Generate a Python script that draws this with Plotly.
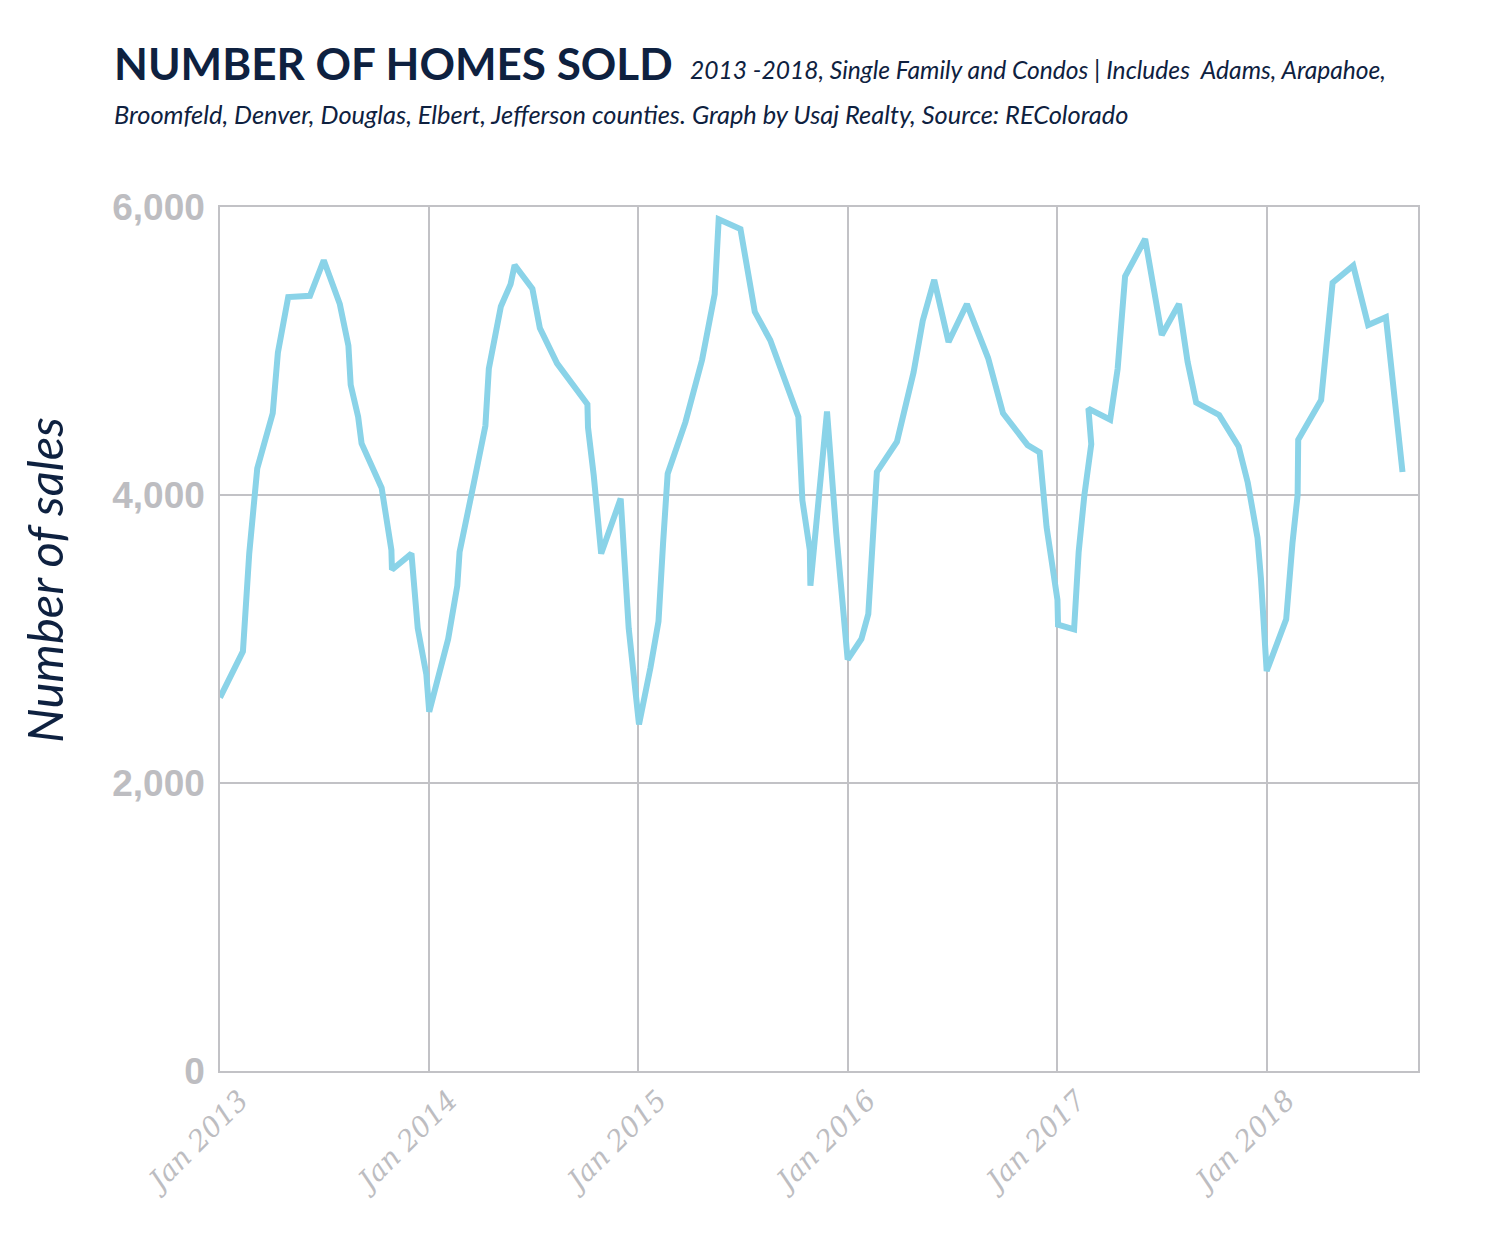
import plotly.graph_objects as go

# ---- data ----
dates = [
    "2013-01-01", "2013-02-10", "2013-02-21", "2013-03-07", "2013-04-03", "2013-04-12",
    "2013-04-30", "2013-06-07", "2013-07-01", "2013-07-29", "2013-08-13", "2013-08-17",
    "2013-08-30", "2013-09-05", "2013-10-10", "2013-10-19", "2013-10-27", "2013-10-28",
    "2013-12-01", "2013-12-12", "2013-12-27",
    "2014-01-01", "2014-01-21", "2014-02-03", "2014-02-19", "2014-02-23", "2014-03-20",
    "2014-04-09", "2014-04-15", "2014-05-06", "2014-05-23", "2014-05-30", "2014-06-30",
    "2014-07-13", "2014-08-12", "2014-09-16", "2014-10-04", "2014-10-05", "2014-10-15",
    "2014-10-28", "2014-12-01", "2014-12-15",
    "2015-01-02", "2015-01-22", "2015-02-05", "2015-02-13", "2015-02-21", "2015-03-24",
    "2015-04-22", "2015-05-14", "2015-05-20", "2015-05-21", "2015-06-28", "2015-07-23",
    "2015-08-19", "2015-09-12", "2015-10-07", "2015-10-14", "2015-10-27", "2015-10-28",
    "2015-11-26", "2015-12-12",
    "2016-01-01", "2016-01-25", "2016-02-06", "2016-02-21", "2016-03-27", "2016-04-25",
    "2016-05-11", "2016-05-31", "2016-06-25", "2016-07-27", "2016-09-02", "2016-09-28",
    "2016-11-10", "2016-12-01", "2016-12-13",
    "2017-01-01", "2017-01-02", "2017-01-30", "2017-02-07", "2017-02-17", "2017-03-01",
    "2017-02-24", "2017-04-03", "2017-04-16", "2017-04-23", "2017-04-29", "2017-06-03",
    "2017-06-17", "2017-07-02", "2017-08-01", "2017-08-16", "2017-08-31", "2017-10-10",
    "2017-11-13", "2017-11-29", "2017-12-16", "2017-12-22",
    "2018-01-01", "2018-02-04", "2018-02-15", "2018-02-24", "2018-02-25", "2018-04-06",
    "2018-04-26", "2018-06-01", "2018-06-27", "2018-07-28", "2018-08-26",
]
sales = [
    2593, 2914, 3593, 4185, 4568, 4988,
    5375, 5383, 5630, 5326, 5037, 4765,
    4543, 4358, 4049, 3840, 3617, 3481,
    3593, 3074, 2753,
    2494, 2790, 3000, 3370, 3605, 4086,
    4481, 4877, 5309, 5464, 5597, 5432,
    5160, 4914, 4716, 4630, 4469, 4136,
    3593, 3975, 3074,
    2407, 2802, 3123, 3667, 4148, 4506,
    4938, 5395, 5741, 5914, 5847, 5272,
    5074, 4827, 4543, 3963, 3617, 3370,
    4580, 3741,
    2857, 3000, 3173, 4160, 4370, 4852,
    5210, 5494, 5062, 5326, 4951, 4568,
    4346, 4296, 3778,
    3272, 3099, 3067, 3605, 4000, 4353,
    4600, 4523, 4876, 5259, 5518, 5778,
    5469, 5111, 5326, 4926, 4642, 4556,
    4338, 4086, 3704, 3420,
    2778, 3136, 3667, 4000, 4383, 4659,
    5474, 5593, 5180, 5235, 4160,
]
x_tick_vals = ["2013-01-01", "2014-01-01", "2015-01-01", "2016-01-01", "2017-01-01", "2018-01-01"]
x_tick_text = ["Jan 2013", "Jan 2014", "Jan 2015", "Jan 2016", "Jan 2017", "Jan 2018"]
y_tick_vals = [0, 2000, 4000, 6000]
y_tick_text = ["0", "2,000", "4,000", "6,000"]

title_text = "NUMBER OF HOMES SOLD"
subtitle_1 = "2013 -2018, Single Family and Condos | Includes  Adams, Arapahoe,"
subtitle_2 = "Broomfeld, Denver, Douglas, Elbert, Jefferson counties. Graph by Usaj Realty, Source: REColorado"
y_title = "Number of sales"

NAVY = "#0e2140"
GRID = "#c2c2c6"
TICK = "#bdbdc1"
LINE = "#8ad3e8"

fig = go.Figure()
fig.add_trace(go.Scatter(
    x=dates, y=sales, mode="lines",
    line=dict(color=LINE, width=6, shape="linear"),
    hoverinfo="x+y", showlegend=False,
))

W, H = 1486, 1236
OFF = 8  # page body margin
# target screen positions of plot area
SL, SR, ST, SB = 220, 1418, 207, 1071
L, T = SL - OFF, ST - OFF
R = W - (SR - OFF)
B = H - (SB - OFF)
pw, ph = SR - SL, SB - ST

def px(xp):
    return (xp - SL) / pw

def py(yp):
    return (SB - yp) / ph

fig.update_layout(
    width=W, height=H,
    margin=dict(l=L, r=R, t=T, b=B, pad=0),
    paper_bgcolor="white", plot_bgcolor="white",
    xaxis=dict(
        type="date", range=["2013-01-01", "2018-09-22"],
        tickmode="array", tickvals=x_tick_vals, ticktext=x_tick_text,
        tickangle=-45, ticklabelshift=20,
        tickfont=dict(family="DejaVu Serif", size=28, color=TICK, style="italic"),
        showgrid=True, gridcolor=GRID, gridwidth=1.5,
        showline=True, linecolor=GRID, linewidth=1.5, mirror=True,
        ticks="", zeroline=False,
    ),
    yaxis=dict(
        range=[0, 6000],
        tickmode="array", tickvals=y_tick_vals, ticktext=y_tick_text,
        tickfont=dict(family="Liberation Sans", size=37, color=TICK, weight="bold"),
        showgrid=True, gridcolor=GRID, gridwidth=1.5,
        showline=True, linecolor=GRID, linewidth=1.5, mirror=True,
        ticks="outside", ticklen=6, tickcolor="rgba(0,0,0,0)",
        zeroline=False,
    ),
)

fig.add_annotation(
    text=f"<b>{title_text}</b>", xref="paper", yref="paper",
    x=px(112), y=py(63), xanchor="left", yanchor="middle", showarrow=False,
    font=dict(family="Lato", size=44, color=NAVY, weight=900),
)
fig.add_annotation(
    text=f"<i>{subtitle_1}</i>", xref="paper", yref="paper",
    x=px(688), y=py(70), xanchor="left", yanchor="middle", showarrow=False,
    font=dict(family="Lato", size=24.6, color=NAVY),
)
fig.add_annotation(
    text=f"<i>{subtitle_2}</i>", xref="paper", yref="paper",
    x=px(112), y=py(114), xanchor="left", yanchor="middle", showarrow=False,
    font=dict(family="Lato", size=25.4, color=NAVY),
)
fig.add_annotation(
    text=f"<i>{y_title}</i>", xref="paper", yref="paper",
    x=px(44), y=py(580), xanchor="center", yanchor="middle", showarrow=False,
    textangle=-90,
    font=dict(family="Lato", size=49, color=NAVY),
)

fig.write_html("out.html")
